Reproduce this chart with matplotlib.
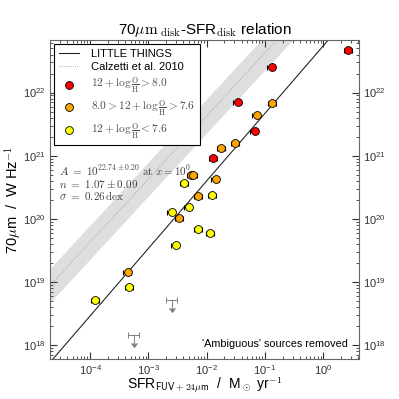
import numpy as np
import matplotlib
matplotlib.use('Agg')
from matplotlib import pyplot as plt
from matplotlib.ticker import LogLocator, NullFormatter

plt.rcParams['font.family'] = ['Liberation Sans', 'DejaVu Sans']
plt.rcParams['mathtext.fontset'] = 'cm'

# SFR (Msun/yr) and 70um luminosity density (W/Hz)
red_sfr = [2.69, 0.130, 0.0340, 0.0665, 0.0128]
red_l70 = [4.8e22, 2.55e22, 7.1e21, 2.42e21, 9.3e20]

orange_sfr = [0.133, 0.0721, 0.0305, 0.0176, 0.0054, 0.00582, 0.01426, 0.00710, 0.00335, 0.000442]
orange_l70 = [6.9e21, 4.4e21, 1.56e21, 1.30e21, 5.0e20, 5.0e20, 4.3e20, 2.28e20, 1.03e20, 1.44e19]

yellow_sfr = [0.00413, 0.01247, 0.00491, 0.00251, 0.00718, 0.01153, 0.00292, 0.000465, 0.000121]
yellow_l70 = [3.73e20, 2.41e20, 1.56e20, 1.28e20, 6.8e19, 6.0e19, 3.78e19, 8.4e18, 5.1e18]

# upper limits
lim_sfr = [0.00257, 0.000573]
lim_l70 = [5.2e18, 1.46e18]

sfr_frac_err = 0.16

# fits
lt_logA, lt_n = 22.74, 1.07          # LITTLE THINGS
calz_off, calz_scatter = 23.63, 0.27  # Calzetti et al. 2010

fig = plt.figure(figsize=(3.99, 3.99), dpi=100)
ax = fig.add_axes([0.1253, 0.1003, 0.7744, 0.7995])

xlo, xhi = 2.05e-5, 4.1
ylo, yhi = 6.0e17, 6.8e22

xx = np.logspace(np.log10(xlo), np.log10(xhi), 200)
ax.fill_between(xx, 10**(np.log10(xx) + calz_off - calz_scatter),
                10**(np.log10(xx) + calz_off + calz_scatter),
                color='0.87', lw=0, zorder=1)
ax.plot(xx, 10**(np.log10(xx) + calz_off), ls=':', color='0.6', lw=0.6, zorder=2,
        label='Calzetti et al. 2010')
ax.plot(xx, 10**(lt_logA + lt_n*np.log10(xx)), color='0.15', lw=0.8, zorder=2,
        label='LITTLE THINGS')

def pts(sfr, l70, col, lab):
    sfr = np.array(sfr)
    ax.errorbar(sfr, l70, xerr=sfr*sfr_frac_err, fmt='none', ecolor='k',
                elinewidth=0.8, capsize=1.8, capthick=0.8, zorder=3)
    ax.scatter(sfr, l70, s=32, c=col, edgecolors='k', linewidths=0.6, zorder=4, label=lab)

pts(red_sfr, red_l70, '#ff0000', r'$12+\log\frac{\rm O}{\rm H}>8.0$')
pts(orange_sfr, orange_l70, '#ffa500', r'$8.0>12+\log\frac{\rm O}{\rm H}>7.6$')
pts(yellow_sfr, yellow_l70, '#ffff00', r'$12+\log\frac{\rm O}{\rm H}<7.6$')

lim_sfr = np.array(lim_sfr)
lim_l70 = np.array(lim_l70)
ax.errorbar(lim_sfr, lim_l70, xerr=lim_sfr*0.22, yerr=lim_l70*0.27, uplims=True,
            fmt='none', ecolor='0.5', color='0.5', elinewidth=0.7, capsize=2,
            capthick=0.7, zorder=3)

ax.set_xscale('log')
ax.set_yscale('log')
ax.set_xlim(xlo, xhi)
ax.set_ylim(ylo, yhi)

ax.xaxis.set_major_locator(LogLocator(base=10, numticks=20))
ax.xaxis.set_minor_locator(LogLocator(base=10, subs=np.arange(2, 10), numticks=20))
ax.yaxis.set_minor_locator(LogLocator(base=10, subs=np.arange(2, 10), numticks=20))
ax.xaxis.set_minor_formatter(NullFormatter())
ax.yaxis.set_minor_formatter(NullFormatter())
ax.tick_params(which='both', direction='in', top=True, right=True, labelright=True,
               labelsize=8, colors='0.2', pad=3)
ax.tick_params(which='major', length=5, width=0.8)
ax.tick_params(which='minor', length=2.5, width=0.6)
for s in ax.spines.values():
    s.set_color('0.4')
    s.set_linewidth(0.8)

ax.set_title(r'70$\mu{\rm m}_{\rm\ disk}$-SFR$_{\rm disk}$ relation', fontsize=11, pad=4)
ax.set_xlabel(r'SFR$_{\mathsf{FUV+24}\mu\mathsf{m}}$  /  M$_\odot$ yr$^{-1}$', fontsize=10, labelpad=-1)
ax.set_ylabel(r'70$\mu$m  /  W Hz$^{-1}$', fontsize=10.5, labelpad=0)

ax.text(0.03, 0.59, r'$A\ =\ 10^{22.74\pm0.20}\ {\rm at}\ x=10^0$', transform=ax.transAxes,
        fontsize=8, color='0.25', va='center')
ax.text(0.03, 0.549, r'$n\ =\ 1.07\pm0.09$', transform=ax.transAxes, fontsize=8,
        color='0.25', va='center')
ax.text(0.03, 0.514, r'$\sigma\ =\ 0.26\,{\rm dex}$', transform=ax.transAxes, fontsize=8,
        color='0.25', va='center')
ax.text(0.965, 0.047, "'Ambiguous' sources removed", transform=ax.transAxes, fontsize=7.8,
        ha='right', va='center')

h, l = ax.get_legend_handles_labels()
order = [1, 0, 2, 3, 4]
leg = ax.legend([h[i] for i in order], [l[i] for i in order], loc='upper left', fontsize=8,
                fancybox=False, framealpha=1, edgecolor='k', borderaxespad=0.4,
                handlelength=1.8, handletextpad=1.1, labelspacing=0.3, borderpad=0.4)
leg.get_frame().set_linewidth(0.8)
for t in leg.get_texts()[2:]:
    t.set_color('0.3')
    t.set_fontsize(8.2)

fig.savefig('out.png', dpi=100)
